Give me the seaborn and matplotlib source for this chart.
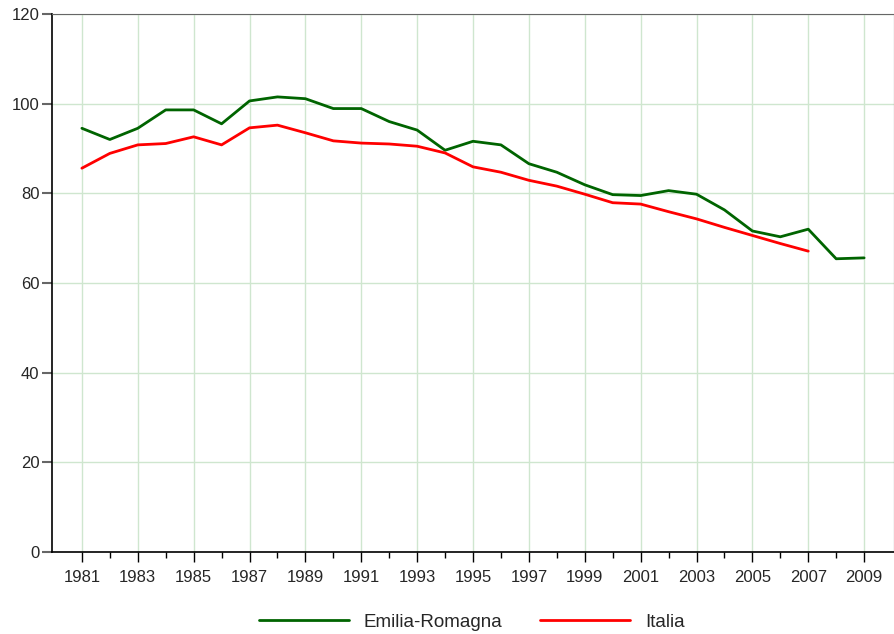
import pandas as pd
import matplotlib.pyplot as plt
import seaborn as sns

# =========================================
# DATA
# =========================================

years = list(range(1981, 2010))

emilia = [94.5, 92.0, 94.5, 98.6, 98.6, 95.5, 100.6, 101.5, 101.1, 98.9,
          98.9, 96.0, 94.1, 89.6, 91.6, 90.8, 86.6, 84.7, 81.9, 79.7,
          79.5, 80.6, 79.8, 76.3, 71.6, 70.3, 72.0, 65.4, 65.6]

italia = [85.6, 88.9, 90.8, 91.1, 92.6, 90.8, 94.6, 95.2, 93.5, 91.7,
          91.2, 91.0, 90.5, 89.0, 85.9, 84.7, 82.9, 81.6, 79.8, 77.9,
          77.6, 75.9, 74.3, 72.4, 70.6, 68.8, 67.1]

series_names = ["Emilia-Romagna", "Italia"]
colors = ["#006400", "#ff0000"]

y_ticks = [0, 20, 40, 60, 80, 100, 120]

# =========================================
# LONG FORMAT TABLE
# =========================================

df = pd.concat([
    pd.DataFrame({"anno": years[:len(emilia)], "valore": emilia, "serie": series_names[0]}),
    pd.DataFrame({"anno": years[:len(italia)], "valore": italia, "serie": series_names[1]}),
])

# =========================================
# PLOT
# =========================================

sns.set_style("white")
plt.rcParams["font.family"] = ["Liberation Sans", "DejaVu Sans"]

fig = plt.figure(figsize=(8.95, 6.34), dpi=100)
ax = fig.add_axes([0.0581, 0.1293, 0.9408, 0.8487])

sns.lineplot(
    data=df,
    x="anno",
    y="valore",
    hue="serie",
    palette=dict(zip(series_names, colors)),
    linewidth=2.0,
    ax=ax,
    legend=False
)

ax.set_xlim(1979.93, 2010.07)
ax.set_ylim(0, 120)
ax.set_yticks(y_ticks)
ax.set_xticks(years[::2])
ax.set_xticks(years[1::2], minor=True)
ax.set_xlabel("")
ax.set_ylabel("")

ax.grid(True, which="major", color="#cfe6cf", linewidth=1.0)
ax.set_axisbelow(True)

ax.tick_params(axis="x", which="major", length=7, width=1, color="black",
               labelsize=12, bottom=True, pad=6)
ax.tick_params(axis="x", which="minor", length=4, width=1, color="black",
               bottom=True)
ax.tick_params(axis="y", length=7, width=1.5, color="#666666",
               labelsize=12, left=True, pad=2)

for side in ["left", "bottom"]:
    ax.spines[side].set_color("black")
    ax.spines[side].set_linewidth(1.2)
ax.spines["top"].set_color("#666666")
ax.spines["right"].set_color("#444444")

# legend below the plot
handles = [plt.Line2D([], [], color=c, linewidth=2.0) for c in colors]
fig.legend(
    handles,
    series_names,
    loc="center",
    bbox_to_anchor=(0.527, 0.019),
    ncol=2,
    frameon=False,
    fontsize=13.5,
    handlelength=4.8,
    columnspacing=2.0,
    handletextpad=0.8
)

fig.savefig("out.png", dpi=100)
